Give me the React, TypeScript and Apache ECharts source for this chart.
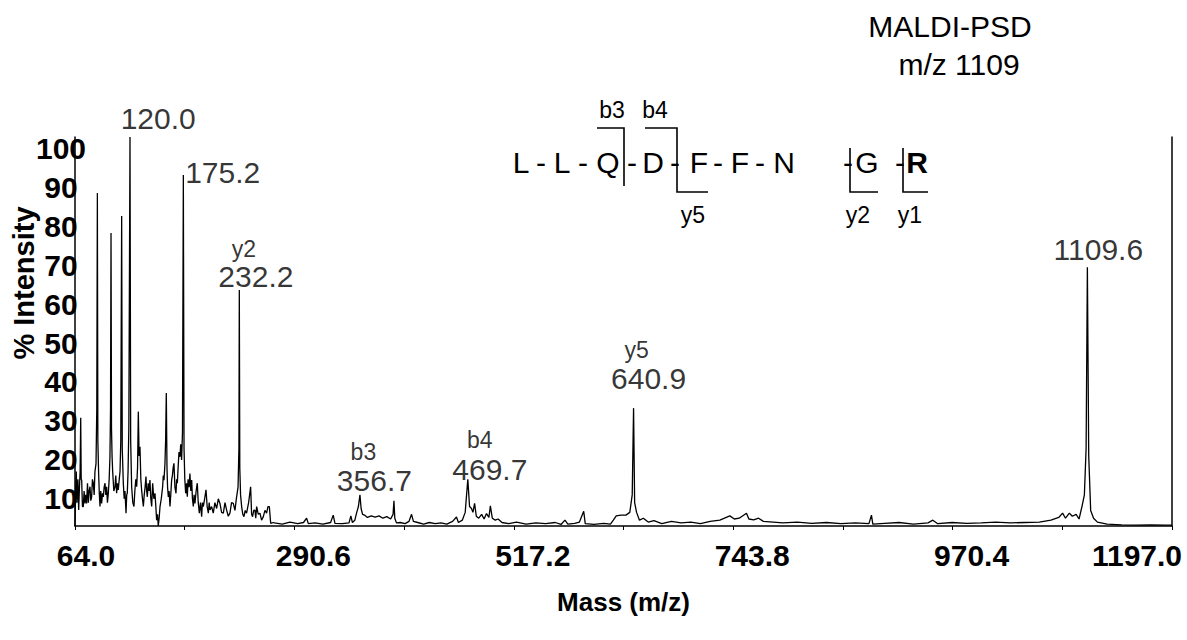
import React, { useEffect, useRef } from 'react';
import * as echarts from 'echarts';

const FONT = '"Liberation Sans", Arial, Helvetica, sans-serif';

// ---- axis ticks / labels ----
const xTickValues = [64.0, 177.3, 290.6, 403.9, 517.2, 630.5, 743.8, 857.1, 970.4, 1083.7, 1197.0];
const xLabelValues = [64.0, 290.6, 517.2, 743.8, 970.4, 1197.0];
const yLabelValues = [10, 20, 30, 40, 50, 60, 70, 80, 90, 100];

// ---- spectrum trace: [m/z, % intensity] ----
const lowMassTrace: [number, number][] = [
  [64.0, 0], [64.6, 9], [65.3, 14], [66.0, 6], [66.4, 9.3], [67.0, 12], [67.8, 4.1], [68.6, 10], [69.3, 14],
  [69.9, 27.8], [70.4, 12], [70.9, 11.8], [71.7, 5], [72.6, 5.0], [73.4, 9], [74.3, 5.8], [75.2, 8], [76.0, 5.8],
  [76.9, 11], [77.8, 6], [78.6, 9], [79.5, 10.1], [80.3, 6.5], [81.2, 7.5], [82.0, 12], [82.9, 11.0], [83.8, 8],
  [84.6, 14], [85.7, 16], [86.5, 30], [87.1, 85.6], [87.6, 22], [88.4, 13.5], [89.1, 8.4], [89.8, 5.0], [90.6, 9],
  [91.5, 5.8], [92.4, 8.4], [93.3, 7.5], [94.1, 10], [95.0, 11.0], [95.8, 8], [96.7, 10.1], [97.5, 6], [98.4, 8.4],
  [99.3, 12], [100.1, 17.8], [100.7, 30], [101.2, 75.3], [101.7, 25], [102.3, 17.8], [102.9, 14], [104.1, 9],
  [105.3, 10.1], [106.1, 13], [107.0, 8.4], [107.8, 11], [108.7, 9.3], [109.6, 11.8], [110.5, 14], [111.3, 22],
  [112.2, 79.7], [112.8, 20], [113.9, 11.0], [114.8, 7], [115.6, 9], [116.7, 3.3], [117.4, 8], [118.0, 8.4],
  [118.8, 14], [119.6, 25], [120.8, 100], [121.5, 22], [122.5, 10.1], [123.7, 6], [124.9, 5.0], [125.8, 9],
  [126.8, 12], [127.7, 10.1], [128.6, 15], [129.4, 29.4], [130.2, 18], [131.1, 20.4], [132.0, 12], [132.8, 9.3],
  [133.7, 7], [134.6, 5.0], [135.5, 8], [136.4, 10], [137.3, 12.7], [138.0, 9], [138.7, 7.5], [139.6, 11],
  [140.5, 9], [141.4, 11.8], [142.3, 7], [143.2, 5.0], [144.2, 11.0], [145.4, 7], [146.6, 8.4], [147.5, 5],
  [148.3, 1.5], [149.2, 3], [150.0, 0], [150.9, 2], [151.8, 5.0], [153.1, 7], [154.5, 10.1], [155.2, 13],
  [155.9, 11.8], [156.9, 16], [157.6, 22], [158.3, 34.2], [159.0, 15], [159.6, 10], [160.4, 7.5], [161.2, 9],
  [162.1, 5.0], [162.9, 8], [163.8, 11.8], [164.6, 13], [165.4, 15], [166.2, 16.1], [167.2, 10], [168.3, 8.4],
  [169.0, 12], [169.7, 11.0], [170.5, 15], [171.4, 19], [172.4, 17.8], [173.2, 21], [174.1, 17], [175.0, 24],
  [175.9, 90.2], [176.6, 20], [177.4, 12], [178.3, 8.4], [179.2, 11], [180.0, 7.5], [180.8, 12], [181.8, 10],
  [182.7, 13.5], [183.6, 9], [184.5, 11.8], [185.3, 7], [186.2, 5.0], [187.0, 8], [187.9, 5.8], [189.1, 9],
  [190.3, 11.0], [191.3, 6], [192.4, 3.3], [193.6, 6], [194.8, 2.4], [195.6, 6], [196.5, 5.0], [197.9, 7],
  [199.3, 9.3], [200.5, 5], [201.7, 3.3], [202.6, 6], [203.4, 4.1], [205.1, 5], [206.8, 3.3], [208.5, 6],
  [210.3, 4.5], [212.0, 7], [213.7, 5.8], [215.4, 3.5], [217.2, 3.3], [218.9, 6], [220.6, 4.1], [222.3, 2.5],
  [224.0, 3.3], [225.7, 6], [227.5, 5.8], [229.2, 4], [230.9, 7.5], [232.4, 10], [233.3, 20], [233.7, 60.7],
  [234.2, 15], [235.0, 8], [236.1, 5.0], [237.3, 3], [238.5, 2.4], [239.8, 4], [241.2, 3.3], [243.3, 6],
  [245.4, 10.1], [246.4, 3], [247.4, 2.4], [248.6, 4], [249.8, 4.1], [250.7, 2], [251.6, 5.0], [253.3, 3],
  [255.0, 3.3], [256.7, 1.5], [258.5, 2.4], [260.2, 4], [261.9, 3.3], [263.3, 5], [264.7, 5.0], [266.1, 0.7],
  [268.8, 0.9],
];

const highMassTrace: [number, number][] = [
  [270, 0.8], [278, 0.5], [286, 1.0], [294, 0.6], [300, 0.9], [303.2, 2.0], [305, 0.6], [312, 0.8], [320, 0.5],
  [328, 0.9], [330.7, 2.8], [332.5, 0.7], [340, 0.6], [347, 0.8], [348.9, 2.6], [350.5, 0.9], [353, 1.5],
  [355, 3.5], [356.7, 5], [358.3, 8], [359.5, 4.5], [361, 3], [363, 2.8], [366, 2.2], [370, 2.6], [374, 2.3],
  [378, 2.6], [382, 2.0], [386, 2.4], [390, 1.8], [392.5, 3], [393.4, 6.5], [394.3, 2], [396, 0.8], [400, 0.9],
  [405, 0.6], [409, 1.2], [411.6, 3], [413.5, 1.2], [418, 0.9], [424, 0.5], [430, 0.9], [436, 0.6], [442, 0.8],
  [448, 0.5], [454, 1.2], [458, 2.3], [460, 0.9], [464, 1.5], [467, 3.5], [469.7, 12], [471.5, 5], [473.5, 4.5],
  [475, 3.5], [476.7, 5.8], [478.5, 2.5], [481, 2.0], [484, 3], [486.5, 1.8], [489, 3.2], [491.5, 2.2],
  [493, 5.2], [495, 2], [498, 1.5], [501, 1.8], [505, 0.9], [512, 0.6], [520, 1.0], [530, 0.5], [540, 0.8],
  [550, 0.6], [560, 0.9], [566, 0.4], [570, 1.5], [573, 0.5], [580, 0.7], [585, 1], [589.4, 3.8], [591, 0.6],
  [600, 0.4], [610, 0.7], [617, 0.5], [620, 1.5], [623, 2.6], [628, 2.8], [633, 2.8], [637, 3.5], [639.5, 8],
  [640.9, 30.3], [642, 6], [644, 3.5], [647, 1.5], [651, 2.0], [656, 1.0], [662, 1.4], [670, 0.6], [680, 1.2],
  [690, 0.8], [700, 1.0], [710, 0.6], [720, 1.2], [730, 1.5], [740.3, 2.6], [745, 1.8], [750, 2.0],
  [757.5, 3.3], [760, 1.8], [765, 1.6], [770, 2.0], [775, 1.2], [785, 1.0], [795, 0.8], [810, 1.0], [825, 0.7],
  [840, 0.9], [855, 0.6], [870, 0.8], [884, 0.6], [886.6, 2.8], [888, 0.5], [900, 0.7], [915, 0.9], [930, 0.5],
  [945, 0.8], [950, 1.5], [955, 0.6], [970, 0.9], [985, 0.7], [1000, 0.8], [1015, 1.0], [1030, 0.8],
  [1045, 0.9], [1060, 1.0], [1072, 1.5], [1080, 2.2], [1084, 3.3], [1087, 2.0], [1091, 3.3], [1094, 2.5],
  [1098, 3.0], [1101, 1.8], [1104, 5], [1106.5, 8], [1108.3, 20], [1109.6, 66.5], [1111, 18], [1113, 4],
  [1116, 2], [1120, 1], [1130, 0.5], [1145, 0.3], [1160, 0.2], [1175, 0.3], [1190, 0.2], [1197, 0.2],
];

// ---- annotated peaks ----
const peakMz = [120.0, 175.2, 232.2, 356.7, 469.7, 640.9, 1109.6];
const peakIntensity = [100, 90.2, 60.7, 8.0, 12.0, 30.3, 66.5];
const peakIon = ['', '', 'y2', 'b3', 'b4', 'y5', ''];

// ---- peptide sequence & fragment ions ----
const peptide = ['L', 'L', 'Q', 'D', 'F', 'F', 'N', 'G', 'R'];
const titleLines = ['MALDI-PSD', 'm/z 1109'];

// label placement (pixel offsets from each annotated peak apex) – layout only
const mzOffsets = [[29, -19], [40, -3], [18, -13], [16, -14], [22, -10], [15, -30], [11, -18]];
const ionOffsets = [[0, 0], [0, 0], [6, -41], [5, -43], [12, -39], [3, -58], [0, 0]];

// peptide layout (pixels)
const residueX = [521, 562, 608, 653, 699, 740, 784, 867, 917];
const dashX = [541, 583, 632, 675, 718, 760, 848, 900];
const ROW_Y = 162;

export default function App() {
  const ref = useRef<HTMLDivElement>(null);

  useEffect(() => {
    if (!ref.current) return;
    const chart = echarts.init(ref.current, undefined, { renderer: 'svg' });

    const trace = [...lowMassTrace, ...highMassTrace];

    const mzData = peakMz.map((m, i) => ({
      value: [m, peakIntensity[i]],
      label: { offset: mzOffsets[i], formatter: m.toFixed(1) },
    }));
    const ionData = peakMz
      .map((m, i) => ({ m, i }))
      .filter((d) => peakIon[d.i] !== '')
      .map(({ m, i }) => ({
        value: [m, peakIntensity[i]],
        label: { offset: ionOffsets[i], formatter: peakIon[i] },
      }));

    const texts: any[] = [];
    peptide.forEach((r, i) => {
      texts.push({
        type: 'text',
        x: residueX[i],
        y: ROW_Y,
        style: {
          text: r,
          font: `${r === 'R' ? 'bold ' : ''}30px ${FONT}`,
          fill: '#000',
          align: 'center',
          verticalAlign: 'middle',
        },
      });
    });
    dashX.forEach((x) => {
      texts.push({
        type: 'text',
        x,
        y: ROW_Y,
        style: { text: '-', font: `30px ${FONT}`, fill: '#000', align: 'center', verticalAlign: 'middle' },
      });
    });
    const bracket = (pts: number[][]) => ({
      type: 'polyline',
      shape: { points: pts },
      style: { stroke: '#000', lineWidth: 1.6, fill: null },
    });
    texts.push(bracket([[597, 128], [624, 128], [624, 186]]));
    texts.push(bracket([[645, 128], [677, 128], [677, 192], [708, 192]]));
    texts.push(bracket([[850, 148], [850, 192], [878, 192]]));
    texts.push(bracket([[903, 148], [903, 192], [928, 192]]));
    const small = (t: string, x: number, y: number) => ({
      type: 'text',
      x,
      y,
      style: { text: t, font: `23px ${FONT}`, fill: '#000', align: 'center', verticalAlign: 'middle' },
    });
    texts.push(small('b3', 612, 110));
    texts.push(small('b4', 655, 110));
    texts.push(small('y5', 693, 215));
    texts.push(small('y2', 858, 215));
    texts.push(small('y1', 910, 215));

    texts.push({
      type: 'text',
      x: 950,
      y: 26,
      style: { text: titleLines[0], font: `30px ${FONT}`, fill: '#000', align: 'center', verticalAlign: 'middle' },
    });
    texts.push({
      type: 'text',
      x: 959,
      y: 64,
      style: { text: titleLines[1], font: `30px ${FONT}`, fill: '#000', align: 'center', verticalAlign: 'middle' },
    });
    texts.push({
      type: 'text',
      x: 24,
      y: 283,
      rotation: Math.PI / 2,
      style: {
        text: '% Intensity',
        font: `bold 29px ${FONT}`,
        fill: '#000',
        align: 'center',
        verticalAlign: 'middle',
      },
    });

    const axisFont = { fontFamily: FONT, fontWeight: 'bold' as const, fontSize: 30, color: '#000' };

    chart.setOption({
      animation: false,
      backgroundColor: '#fff',
      grid: { left: 75, right: 15, top: 137, bottom: 114, containLabel: false },
      xAxis: {
        type: 'value',
        min: 64,
        max: 1197,
        name: 'Mass (m/z)',
        nameLocation: 'middle',
        nameGap: 63,
        nameTextStyle: { fontFamily: FONT, fontWeight: 'bold', fontSize: 26, color: '#000' },
        axisLine: { show: true, lineStyle: { color: '#000', width: 1.5 } },
        axisTick: { show: true, customValues: xTickValues, length: 4, lineStyle: { color: '#000', width: 1 } },
        splitLine: { show: false },
        axisLabel: {
          customValues: xLabelValues,
          margin: 14,
          formatter: (v: number) => {
            const s = v.toFixed(1);
            if (v === xLabelValues[0]) return `{first|${s}}`;
            if (v === xLabelValues[xLabelValues.length - 1]) return `{last|${s}}`;
            return `{mid|${s}}`;
          },
          rich: {
            first: { ...axisFont, padding: [0, 0, 0, 22] },
            mid: { ...axisFont, padding: [0, 0, 0, 38] },
            last: { ...axisFont, padding: [0, 70, 0, 0] },
          },
        },
      },
      yAxis: [
        {
          type: 'value',
          min: 0,
          max: 100,
          interval: 10,
          axisLine: { show: true, lineStyle: { color: '#000', width: 1.5 } },
          axisTick: { show: false },
          splitLine: { show: false },
          axisLabel: {
            customValues: yLabelValues,
            align: 'center',
            verticalAlign: 'top',
            lineHeight: 23,
            margin: 14,
            fontFamily: FONT,
            fontWeight: 'bold',
            fontSize: 30,
            color: '#000',
          },
        },
        {
          type: 'value',
          position: 'right',
          min: 0,
          max: 100,
          axisLine: { show: true, lineStyle: { color: '#000', width: 1.5 } },
          axisTick: { show: false },
          axisLabel: { show: false },
          splitLine: { show: false },
        },
      ],
      series: [
        {
          type: 'line',
          data: trace,
          showSymbol: false,
          symbol: 'none',
          lineStyle: { color: '#000', width: 1.3 },
          z: 3,
        },
        {
          type: 'scatter',
          data: mzData,
          symbolSize: 1,
          itemStyle: { color: 'transparent' },
          label: {
            show: true,
            position: 'inside',
            fontFamily: FONT,
            fontSize: 30,
            color: '#000',
          },
          z: 4,
        },
        {
          type: 'scatter',
          data: ionData,
          symbolSize: 1,
          itemStyle: { color: 'transparent' },
          label: {
            show: true,
            position: 'inside',
            fontFamily: FONT,
            fontSize: 23,
            color: '#000',
          },
          z: 4,
        },
      ],
      graphic: { elements: texts },
    });

    return () => chart.dispose();
  }, []);

  return (
    <div
      ref={ref}
      style={{ position: 'absolute', left: 0, top: 0, width: 1187, height: 640, background: '#fff' }}
    />
  );
}
